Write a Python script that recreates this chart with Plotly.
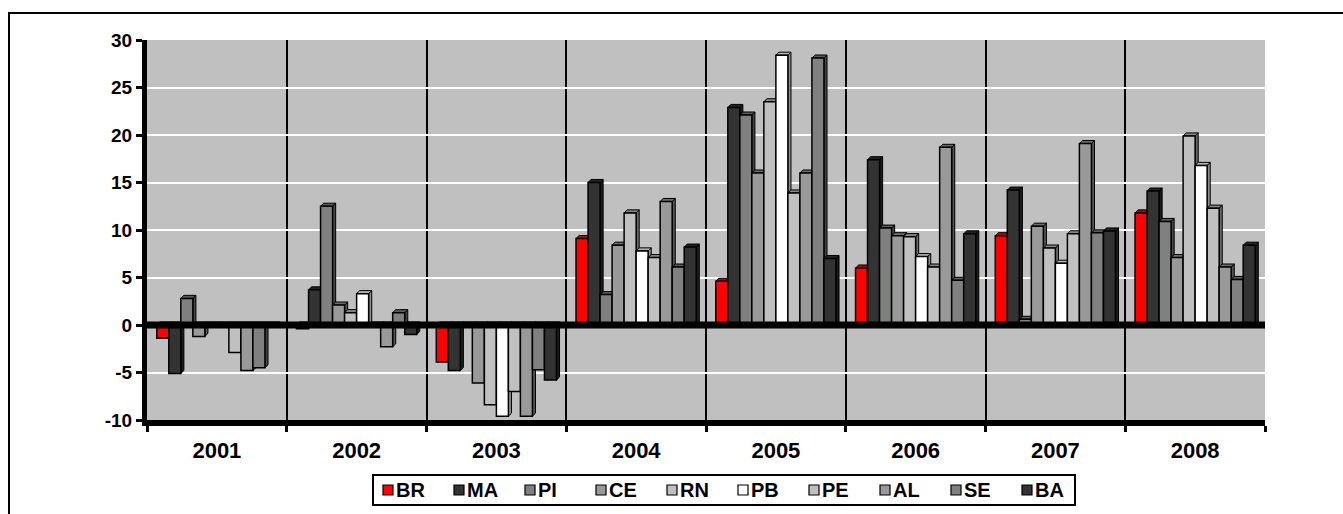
import plotly.graph_objects as go

# Annual growth (%) by state, 2001-2008
years = ["2001", "2002", "2003", "2004", "2005", "2006", "2007", "2008"]
series_names = ["BR", "MA", "PI", "CE", "RN", "PB", "PE", "AL", "SE", "BA"]
y_ticks = [-10, -5, 0, 5, 10, 15, 20, 25, 30]

BR = [-1.4, -0.4, -3.9, 9.1, 4.6, 6.0, 9.4, 11.8]
MA = [-5.1, 3.7, -4.8, 15.0, 22.9, 17.4, 14.2, 14.1]
PI = [2.8, 12.5, 0.0, 3.2, 22.1, 10.2, 0.6, 10.9]
CE = [-1.2, 2.1, -6.1, 8.4, 16.0, 9.4, 10.4, 7.1]
RN = [0.0, 1.3, -8.4, 11.8, 23.5, 9.3, 8.1, 19.9]
PB = [0.0, 3.3, -9.6, 7.8, 28.4, 7.2, 6.5, 16.8]
PE = [-2.9, 0.0, -7.0, 7.1, 13.9, 6.1, 9.6, 12.3]
AL = [-4.8, -2.3, -9.6, 13.0, 16.0, 18.7, 19.1, 6.1]
SE = [-4.5, 1.3, -4.7, 6.1, 28.1, 4.7, 9.7, 4.8]
BA = [0.0, -1.0, -5.8, 8.2, 7.0, 9.6, 9.9, 8.4]

values = [BR, MA, PI, CE, RN, PB, PE, AL, SE, BA]
colors = ["#FF0000", "#333333", "#808080", "#999999", "#C0C0C0",
          "#FFFFFF", "#C0C0C0", "#999999", "#808080", "#333333"]

FONT = "Arial, Liberation Sans, sans-serif"
W, H = 1343, 514
M_L, M_R, M_T, M_B = 147, 78, 40, 94
PLOT_W = W - M_L - M_R
PLOT_H = H - M_T - M_B

BARGAP = 0.14
n_series = len(series_names)
bar_w = (1 - BARGAP) / n_series

# depth of the pseudo-3D faces (axis units)
DX = 0.022
DY = 0.32


def px_x(px):
    """page pixel column -> paper x"""
    return (px - M_L) / PLOT_W


def px_y(py):
    """page pixel row -> paper y"""
    return (H - M_B - py) / PLOT_H


def shade(hex_color, f):
    h = hex_color.lstrip("#")
    r, g, b = (int(h[i:i + 2], 16) for i in (0, 2, 4))
    return "rgb({},{},{})".format(int(r * f), int(g * f), int(b * f))


fig = go.Figure()
shapes = []
annotations = []

for k, (name, vals, col) in enumerate(zip(series_names, values, colors)):
    fig.add_trace(go.Bar(
        name=name, x=years, y=vals, showlegend=False,
        marker=dict(color=col, line=dict(color="black", width=1.5)),
    ))
    # side and top faces giving each bar its depth
    for i, v in enumerate(vals):
        x0 = i - (1 - BARGAP) / 2 + k * bar_w
        x1 = x0 + bar_w
        top = max(v, 0)
        bot = min(v, 0)
        side = "M {a},{b} L {a},{c} L {d},{e} L {d},{f} Z".format(
            a=x1, b=bot, c=top, d=x1 + DX, e=top + DY, f=bot + DY)
        shapes.append(dict(type="path", path=side, xref="x", yref="y",
                           fillcolor=shade(col, 0.55),
                           line=dict(color="black", width=1), layer="between"))
        lid = "M {a},{t} L {b},{t} L {c},{u} L {d},{u} Z".format(
            a=x0, b=x1, c=x1 + DX, d=x0 + DX, t=top, u=top + DY)
        shapes.append(dict(type="path", path=lid, xref="x", yref="y",
                           fillcolor=shade(col, 0.7),
                           line=dict(color="black", width=1), layer="between"))

# thick category axis at zero
shapes.append(dict(type="line", xref="x", yref="y", x0=-0.5, x1=len(years) - 0.5,
                   y0=0, y1=0, line=dict(color="black", width=7), layer="above"))

# outer chart frame
shapes.append(dict(type="rect", xref="paper", yref="paper",
                   x0=px_x(9), x1=px_x(1360), y0=px_y(540), y1=px_y(13),
                   line=dict(color="black", width=2), fillcolor="rgba(0,0,0,0)",
                   layer="below"))

# legend box with swatches and labels
LEG_L, LEG_R, LEG_T, LEG_B = 373, 1075, 475, 505
LEG_STEP = 71
shapes.append(dict(type="rect", xref="paper", yref="paper",
                   x0=px_x(LEG_L), x1=px_x(LEG_R), y0=px_y(LEG_B), y1=px_y(LEG_T),
                   line=dict(color="black", width=2), fillcolor="white",
                   layer="below"))
yc = (LEG_T + LEG_B) / 2
for k, (name, col) in enumerate(zip(series_names, colors)):
    sx = LEG_L + 10 + k * LEG_STEP
    shapes.append(dict(type="rect", xref="paper", yref="paper",
                       x0=px_x(sx), x1=px_x(sx + 10),
                       y0=px_y(yc + 5), y1=px_y(yc - 5),
                       line=dict(color="black", width=1.2), fillcolor=col,
                       layer="above"))
    annotations.append(dict(xref="paper", yref="paper", x=px_x(sx + 11), y=px_y(yc),
                            xanchor="left", yanchor="middle", showarrow=False,
                            text="<b>{}</b>".format(name),
                            font=dict(family=FONT, size=20, color="black")))

fig.update_layout(
    width=W, height=H,
    margin=dict(l=M_L, r=M_R, t=M_T, b=M_B, autoexpand=False),
    paper_bgcolor="white",
    plot_bgcolor="#C0C0C0",
    barmode="group",
    bargap=BARGAP,
    bargroupgap=0,
    shapes=shapes,
    annotations=annotations,
    font=dict(family=FONT, size=15, color="black"),
    showlegend=False,
    xaxis=dict(
        type="category",
        tickson="boundaries",
        automargin=False,
        showgrid=True, gridcolor="black", gridwidth=1.5,
        showline=True, linecolor="black", linewidth=6,
        ticks="outside", ticklen=6, tickwidth=3, tickcolor="black",
        ticklabelstandoff=6,
        tickfont=dict(family=FONT, size=22, color="black", weight="bold"),
        range=[-0.5, len(years) - 0.5],
        zeroline=False,
    ),
    yaxis=dict(
        range=[-10, 30],
        automargin=False,
        tickmode="array",
        tickvals=y_ticks,
        ticktext=[str(t) for t in y_ticks],
        showgrid=True, gridcolor="white", gridwidth=2,
        zeroline=False,
        showline=True, linecolor="black", linewidth=5,
        ticks="outside", ticklen=6, tickwidth=3, tickcolor="black",
        tickfont=dict(family=FONT, size=19, color="black", weight="bold"),
    ),
)

fig.write_html("out.html")
